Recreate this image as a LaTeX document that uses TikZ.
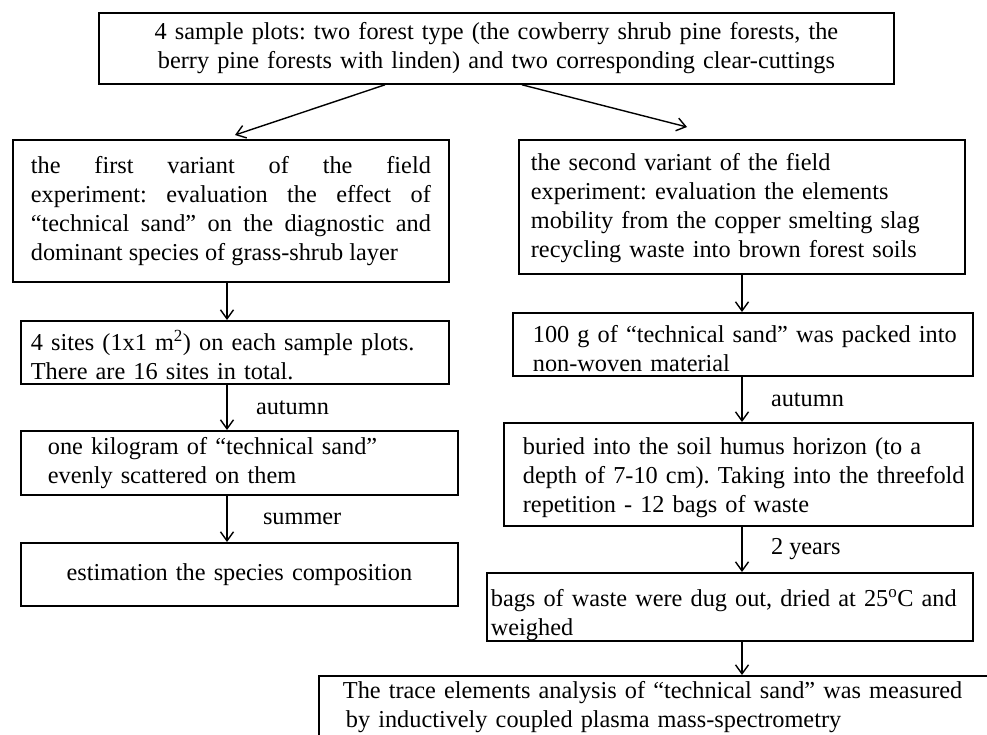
\documentclass[tikz,border=0pt]{standalone}
\usepackage{fontspec}
\setmainfont{Liberation Serif}
\usetikzlibrary{arrows.meta}
\newcommand{\nb}[1]{\mbox{#1}}
\newcommand{\tallfirst}[1]{\rule{0pt}{#1}}
\begin{document}
\frenchspacing
\begin{tikzpicture}[x=1pt,y=-1pt,
  boxstyle/.style={draw, line width=1.8pt, anchor=north west, inner xsep=0pt, inner ysep=0pt,
    font=\fontsize{24.3}{29}\selectfont\frenchspacing},
  arr/.style={line width=1.4pt, -{Straight Barb[length=9pt,width=13pt]}},
  lbl/.style={font=\fontsize{24.3}{29}\selectfont, anchor=west}]
\useasboundingbox (0,0) rectangle (987,734);
\clip (0,0) rectangle (987,734);
\fill[white] (0,0) rectangle (987,734);

\node[boxstyle, minimum width=795pt, minimum height=71pt, text width=770pt, align=center] (top) at (98,12)
  {4 sample plots: two forest type (the cowberry shrub pine forests, the\\berry pine forests with linden) and two corresponding clear-cuttings};

\node[boxstyle, minimum width=436pt, minimum height=142pt, text width=400pt, align=justify] (L1) at (12,139)
  {the first variant of the field\linebreak experiment: evaluation the effect of\linebreak “technical sand” on the diagnostic and\linebreak dominant species of grass-shrub layer};
\node[boxstyle, minimum width=428pt, minimum height=63pt, text width=408pt, align=left] (L2) at (20,320)
  {\tallfirst{26pt}\nb{4 sites (1x1 m\textsuperscript{2}) on each sample plots.}\\\nb{There are 16 sites in total.}};
\node[boxstyle, minimum width=437pt, minimum height=64pt, text width=383pt, align=left] (L3) at (20,430)
  {\nb{one kilogram of “technical sand”}\\\nb{evenly scattered on them}};
\node[boxstyle, minimum width=437pt, minimum height=63pt, text width=400pt, align=center] (L4) at (20,542)
  {estimation the species composition};

\node[boxstyle, minimum width=446pt, minimum height=134pt, text width=422pt, align=left] (R1) at (518,139)
  {\tallfirst{20pt}\nb{the second variant of the field}\\\nb{experiment: evaluation the elements}\\\nb{mobility from the copper smelting slag}\\\nb{recycling waste into brown forest soils}};
\node[boxstyle, minimum width=460pt, minimum height=63pt, text width=420pt, align=left] (R2) at (512,312)
  {\tallfirst{25pt}\nb{100 g of “technical sand” was packed into}\\\nb{non-woven material}};
\node[boxstyle, minimum width=469pt, minimum height=103pt, text width=431pt, align=left] (R3) at (503,422)
  {\tallfirst{23pt}\nb{buried into the soil humus horizon (to a}\\\nb{depth of 7-10 cm). Taking into the threefold}\\\nb{repetition - 12 bags of waste}};
\node[boxstyle, minimum width=486pt, minimum height=63pt, text width=478pt, align=left] (R4) at (486,572)
  {\tallfirst{34pt}\nb{bags of waste were dug out, dried at 25\textsuperscript{o}C and}\\\nb{weighed}};
\node[boxstyle, minimum width=677pt, minimum height=62pt, text width=629pt, align=left] (B) at (318,675)
  {\nb{The trace elements analysis of “technical sand” was measured}\\\nb{\hspace{3pt}by inductively coupled plasma mass-spectrometry}};

\coordinate (lc) at (227,0);
\coordinate (rc) at (742,0);
\coordinate (s1) at (385,0);
\coordinate (s2) at (522,0);
\coordinate (t1) at (235,135);
\coordinate (t2) at (687,127);

\draw[arr] (top.south -| s1) -- (t1);
\draw[arr] (top.south -| s2) -- (t2);

\draw[arr] (L1.south -| lc) -- (L2.north -| lc);
\draw[arr] (L2.south -| lc) -- node[lbl, xshift=25pt] (la1) {autumn} (L3.north -| lc);
\draw[arr] (L3.south -| lc) -- node[lbl, xshift=32pt] (la2) {summer} (L4.north -| lc);

\draw[arr] (R1.south -| rc) -- (R2.north -| rc);
\draw[arr] (R2.south -| rc) -- node[lbl, xshift=25pt] (la3) {autumn} (R3.north -| rc);
\draw[arr] (R3.south -| rc) -- node[lbl, xshift=25pt] (la4) {2 years} (R4.north -| rc);
\draw[arr] (R4.south -| rc) -- (B.north -| rc);
\end{tikzpicture}
\end{document}
